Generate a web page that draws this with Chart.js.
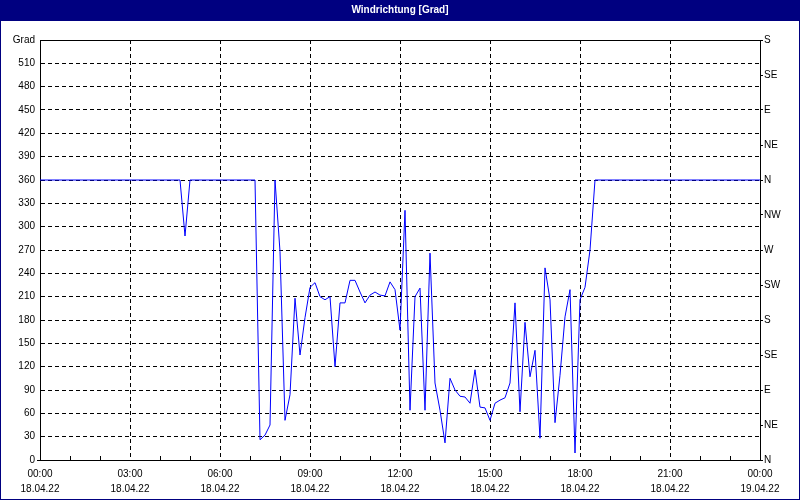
<!DOCTYPE html>
<html>
<head>
<meta charset="utf-8">
<script src="https://cdn.jsdelivr.net/npm/chart.js@4/dist/chart.umd.min.js"></script>
<style>
  html, body { margin: 0; padding: 0; background: #fff; }
  #box { width: 800px; height: 500px; position: relative; }
</style>
</head>
<body>
<div id="box"><canvas id="chart-canvas" width="800" height="500"></canvas></div>
<script>
// Messzeitpunkte (Uhrzeit am 18.04.22, 24:00 = 00:00 am 19.04.22)
const zeiten = [
  '00:00', '04:40', '04:50', '05:00',
  '07:10', '07:20', '07:30', '07:40', '07:50', '08:00', '08:10', '08:20', '08:30', '08:40', '08:50',
  '09:00', '09:10', '09:20', '09:30', '09:40', '09:50', '10:00', '10:10', '10:20', '10:30', '10:40', '10:50',
  '11:00', '11:10', '11:20', '11:30', '11:40', '11:50', '12:00', '12:10', '12:20', '12:30', '12:40', '12:50',
  '13:00', '13:10', '13:20', '13:30', '13:40', '13:50', '14:00', '14:10', '14:20', '14:30', '14:40', '14:50',
  '15:00', '15:10', '15:20', '15:30', '15:40', '15:50', '16:00', '16:10', '16:20', '16:30', '16:40', '16:50',
  '17:00', '17:10', '17:20', '17:30', '17:40', '17:50', '18:00', '18:10', '18:20', '18:30',
  '24:00'
];
// Windrichtung in Grad
const richtung = [
  360, 360, 288, 360,
  360, 26, 32, 45, 360, 268, 51, 84, 208, 135, 183,
  222, 228, 210, 206, 210, 120, 202, 202, 231, 231, 216, 202,
  212, 216, 212, 211, 229, 219, 167, 321, 64, 210, 221, 64,
  266, 99, 64, 22, 105, 90, 82, 81, 73, 116, 68, 67,
  51, 73, 77, 80, 99, 202, 62, 177, 107, 141, 28, 247,
  206, 48, 109, 184, 219, 9, 206, 222, 270, 360,
  360
];

// Achsenbeschriftungen
const stundenLabels = ['00:00', '03:00', '06:00', '09:00', '12:00', '15:00', '18:00', '21:00', '00:00'];
const datumLabels = ['18.04.22', '18.04.22', '18.04.22', '18.04.22', '18.04.22', '18.04.22', '18.04.22', '18.04.22', '19.04.22'];
const himmelsrichtungen = ['N', 'NE', 'E', 'SE', 'S', 'SW', 'W', 'NW', 'N', 'NE', 'E', 'SE', 'S'];
const titel = 'Windrichtung [Grad]';

// Uhrzeit in Stunden umrechnen
function inStunden(t) {
  const [h, m] = t.split(':').map(Number);
  return h + m / 60;
}

const punkte = zeiten.map((t, i) => ({ x: inStunden(t), y: richtung[i] }));

const schrift = { family: '"Liberation Sans", Arial, sans-serif', size: 10 };

// Hintergrund, Titelleiste, Rahmen und Stunden-Striche
const rahmenPlugin = {
  id: 'rahmen',
  beforeDraw(chart) {
    const ctx = chart.ctx;
    ctx.save();
    ctx.fillStyle = '#ffffff';
    ctx.fillRect(0, 0, chart.width, chart.height);
    ctx.fillStyle = '#000080';
    ctx.fillRect(0, 0, chart.width, 21);
    ctx.strokeStyle = '#000080';
    ctx.lineWidth = 1;
    ctx.strokeRect(0.5, 0.5, chart.width - 1, chart.height - 1);
    ctx.fillStyle = '#ffffff';
    ctx.font = 'bold 10px "Liberation Sans", Arial, sans-serif';
    ctx.textAlign = 'center';
    ctx.textBaseline = 'middle';
    ctx.fillText(titel, chart.width / 2, 10.5);
    ctx.restore();
  },
  afterDraw(chart) {
    const ctx = chart.ctx;
    const area = chart.chartArea;
    const xs = chart.scales.x;
    ctx.save();
    ctx.strokeStyle = '#000';
    ctx.lineWidth = 1;
    ctx.beginPath();
    ctx.moveTo(area.left, Math.round(area.top) + 0.5);
    ctx.lineTo(area.right, Math.round(area.top) + 0.5);
    for (let h = 1; h < 24; h++) {
      if (h % 3 === 0) continue;
      const px = Math.round(xs.getPixelForValue(h)) + 0.5;
      ctx.moveTo(px, area.bottom);
      ctx.lineTo(px, area.bottom - 4);
    }
    ctx.stroke();
    ctx.restore();
  }
};

const ctx = document.getElementById('chart-canvas').getContext('2d');
new Chart(ctx, {
  type: 'line',
  data: {
    datasets: [{
      data: punkte,
      borderColor: '#0000ff',
      borderWidth: 1,
      pointRadius: 0,
      tension: 0,
      fill: false
    }]
  },
  options: {
    responsive: false,
    animation: false,
    events: [],
    layout: { padding: { top: 40, left: 0, right: 0, bottom: 0 } },
    plugins: {
      legend: { display: false },
      title: { display: false },
      tooltip: { enabled: false }
    },
    scales: {
      x: {
        type: 'linear',
        min: 0,
        max: 24,
        afterFit: function(scale) { scale.height = 40; },
        grid: { color: '#000', lineWidth: 1, drawTicks: false },
        border: { display: true, color: '#000', width: 1, dash: [4, 3] },
        ticks: {
          stepSize: 3,
          autoSkip: false,
          maxRotation: 0,
          padding: 6,
          color: '#000',
          font: { ...schrift, lineHeight: 1.55 },
          callback: function(value) {
            const i = Math.round(value / 3);
            return [stundenLabels[i], datumLabels[i]];
          }
        }
      },
      y: {
        position: 'left',
        min: 0,
        max: 540,
        afterFit: function(scale) { scale.width = 40; },
        grid: {
          color: '#000',
          lineWidth: 1,
          drawTicks: true,
          tickLength: 3,
          tickColor: function(c) { return c.tick && c.tick.value === 0 ? '#000' : 'rgba(0,0,0,0)'; }
        },
        border: { display: true, color: '#000', width: 1, dash: [4, 3] },
        ticks: {
          stepSize: 30,
          padding: 2,
          color: '#000',
          font: schrift,
          callback: function(value) { return value === 540 ? 'Grad' : value; }
        }
      },
      y2: {
        position: 'right',
        min: 0,
        max: 540,
        afterFit: function(scale) { scale.width = 40; },
        grid: { drawOnChartArea: false, drawTicks: true, tickLength: 3, tickColor: '#000' },
        border: { display: true, color: '#000', width: 1 },
        ticks: {
          stepSize: 45,
          padding: 1,
          color: '#000',
          font: schrift,
          callback: function(value) { return himmelsrichtungen[Math.round(value / 45)]; }
        }
      }
    }
  },
  plugins: [rahmenPlugin]
});
</script>
</body>
</html>
